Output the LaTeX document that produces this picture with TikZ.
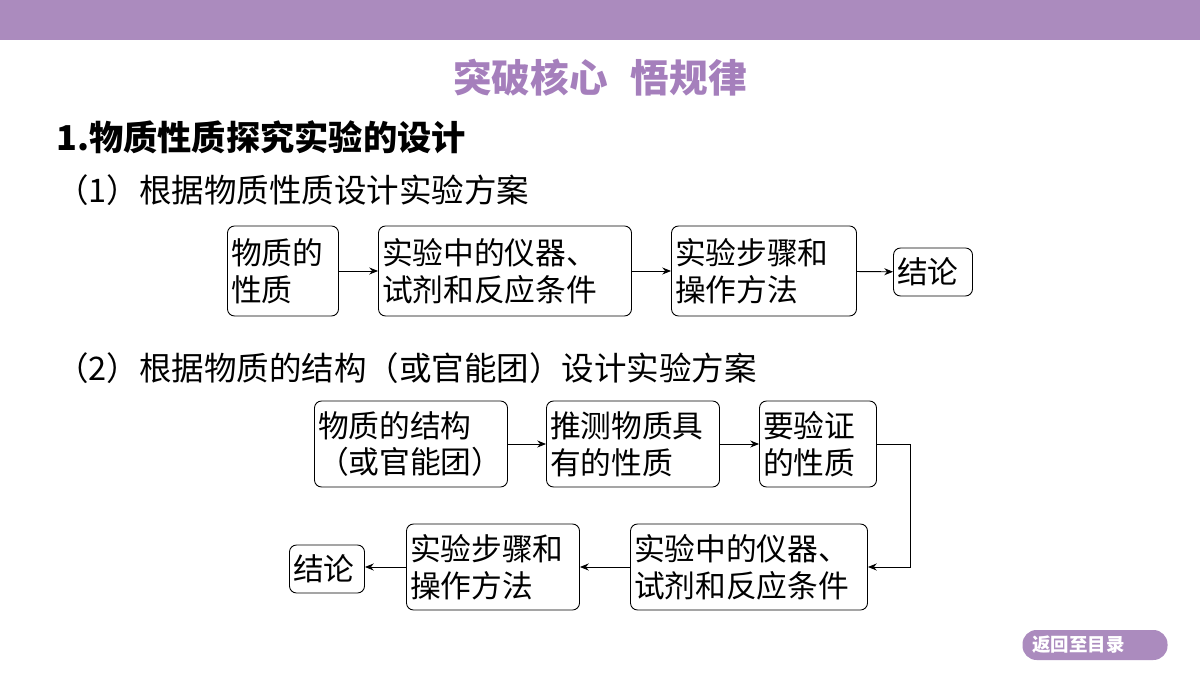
\documentclass[tikz,border=0pt]{standalone}
\usepackage{fontspec}
\setmainfont{Noto Sans CJK SC}
\usetikzlibrary{arrows.meta}
\usetikzlibrary{positioning}
\definecolor{barpurple}{HTML}{AB8BBE}
\definecolor{titlepurple}{HTML}{A57FBC}
\begin{document}
\begin{tikzpicture}
	[x=0.02cm,y=-0.02cm,
	box/.style={draw, rounded corners=4pt, line width=0.5pt, align=left, inner sep=2pt, font=\fontsize{17.5}{21}\selectfont},
	flow/.style={-{Stealth[length=5pt,width=4pt]}, line width=0.5pt}];

	\useasboundingbox (0,0) rectangle (1200,675);
	%Header
	\fill[barpurple] (0,0) rectangle (1200,40);
	\node[text=titlepurple, font=\fontsize{22}{26}\bfseries\selectfont] (title) at (600,78) {突破核心\hspace{0.6em}悟规律};
	\node[anchor=west, font=\fontsize{19.5}{23}\bfseries\selectfont] (sec) at (50,137) {1.物质性质探究实验的设计};
	\node[anchor=west, font=\fontsize{18.5}{22}\selectfont] (sub1) at (50,190) {（1）根据物质性质设计实验方案};
	\node[anchor=west, font=\fontsize{18.5}{22}\selectfont] (sub2) at (50,368) {（2）根据物质的结构（或官能团）设计实验方案};

	%Row 1
	\node[box, minimum height=90*0.02cm, text width=104*0.02cm] (a1) at (283,271) {物质的\\性质};
	\node[box, minimum height=90*0.02cm, text width=246*0.02cm] (a2) at (505,271) {实验中的仪器、\\试剂和反应条件};
	\node[box, minimum height=90*0.02cm, text width=178*0.02cm] (a3) at (764,271) {实验步骤和\\操作方法};
	\node[box, minimum height=48*0.02cm, text width=72*0.02cm] (a4) at (933,272) {结论};
	\draw[flow] (a1) -- (a2);
	\draw[flow] (a2) -- (a3);
	\draw[flow] (a3) -- (a4);

	%Row 2
	\node[box, minimum height=86*0.02cm, text width=186*0.02cm] (b1) at (411,444) {物质的结构\\（或官能团）};
	\node[box, minimum height=86*0.02cm, text width=166*0.02cm] (b2) at (633,444) {推测物质具\\有的性质};
	\node[box, minimum height=86*0.02cm, text width=110*0.02cm] (b3) at (818,444) {要验证\\的性质};
	\node[box, minimum height=86*0.02cm, text width=230*0.02cm] (b4) at (749,567) {实验中的仪器、\\试剂和反应条件};
	\node[box, minimum height=86*0.02cm, text width=166*0.02cm] (b5) at (493,567) {实验步骤和\\操作方法};
	\node[box, minimum height=48*0.02cm, text width=68*0.02cm] (b6) at (327,569) {结论};
	\coordinate (turn) at (910,444);
	\draw[flow] (b1) -- (b2);
	\draw[flow] (b2) -- (b3);
	\draw[flow] (b3.east) -- (turn) |- (b4.east);
	\draw[flow] (b4) -- (b5);
	\draw[flow] (b5.west) -- (b6.east |- b5.west);

	%Back button
	\node[fill=barpurple, rounded corners=8pt, text=white, minimum width=145*0.02cm, minimum height=30*0.02cm, font=\fontsize{10.5}{12}\bfseries\selectfont, text width=125*0.02cm, align=left] (back) at (1095,645) {返回至目录};
\end{tikzpicture}
\end{document}
